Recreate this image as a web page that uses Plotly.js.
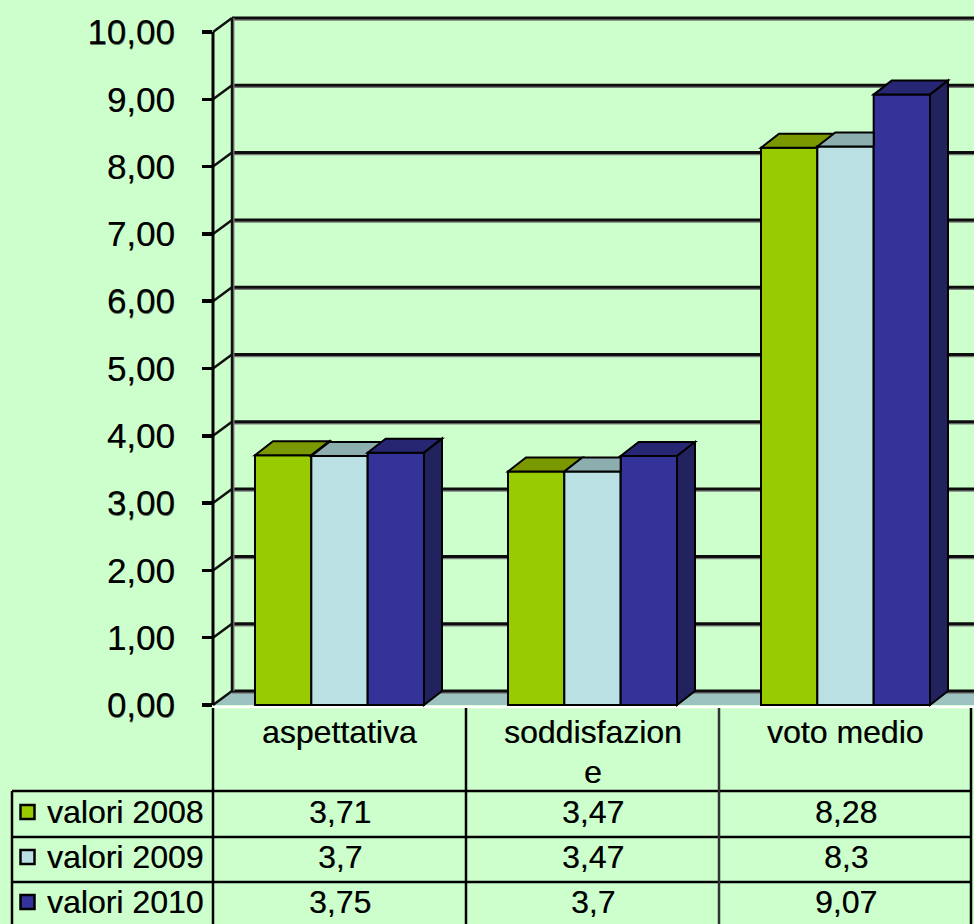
<!DOCTYPE html>
<html>
<head>
<meta charset="utf-8">
<script src="https://cdn.plot.ly/plotly-3.0.1.min.js"></script>
<style>
  html, body { margin: 0; padding: 0; background: #CCFFCC; }
  #chart { width: 974px; height: 924px; }
</style>
</head>
<body>
<div id="chart"></div>
<script>
// ---------------- DATA ----------------
const categories = ["aspettativa", "soddisfazione", "voto medio"];
const categoryLabelLines = [["aspettativa"], ["soddisfazion", "e"], ["voto medio"]];
const seriesNames = ["valori 2008", "valori 2009", "valori 2010"];
const values2008 = [3.71, 3.47, 8.28];
const values2009 = [3.7, 3.47, 8.3];
const values2010 = [3.75, 3.7, 9.07];
const yTickValues = [0, 1, 2, 3, 4, 5, 6, 7, 8, 9, 10];
const yTickLabels = ["0,00", "1,00", "2,00", "3,00", "4,00", "5,00", "6,00", "7,00", "8,00", "9,00", "10,00"];

// ---------------- STYLE / LAYOUT CONSTANTS ----------------
const FONT = "Liberation Sans, Arial, sans-serif";
const TEXT_SHADOW = "0.4px 0.3px 0px rgba(0,0,0,0.55)";
const BG = "#CCFFCC";
const frontColors = ["#99CC00", "#BBE0E3", "#333399"];
const topColors = ["#7A9900", "#8CAEAE", "#262673"];
const sideColors = ["#6C8A00", "#7C9C9C", "#22225E"];
const FLOOR = "#9DC3C1";

const W = 974, H = 924;
const plotLeft = 213;
const zeroPx = 705;
const pxPerUnit = 67.3;
const pxPerCat = 253;
const xMin = -0.5, xMax = xMin + (W - plotLeft) / pxPerCat;
const yMax = zeroPx / pxPerUnit, yMin = -(H - zeroPx) / pxPerUnit;
const wallDx = 19 / pxPerCat, wallDy = 14 / pxPerUnit;
const barDx = 18 / pxPerCat, barDy = 14 / pxPerUnit;
const groupFrac = 169 / 253;
const barW = groupFrac / 3;
const shadowDy = 2 / pxPerUnit;

const xToPaper = x => (x - xMin) / (xMax - xMin);
const yToPaper = y => (y - yMin) / (yMax - yMin);
const pxX = px => (px - plotLeft) / (W - plotLeft);
const pxY = py => 1 - py / H;

const seriesValues = [values2008, values2009, values2010];
const textFont = { family: FONT, size: 32, color: "#000", shadow: TEXT_SHADOW };

// ---------------- TRACES (front faces) ----------------
const traces = seriesValues.map((vals, j) => ({
  type: "bar",
  name: seriesNames[j],
  x: categories.map((c, i) => i),
  y: vals,
  hovertext: categories,
  marker: { color: frontColors[j], line: { color: "#000", width: 2 } }
}));

// ---------------- SHAPES ----------------
const shapes = [];
const path = pts => "M" + pts.map(p => p[0] + "," + p[1]).join("L") + "Z";
const P = (x, y) => [xToPaper(x), yToPaper(y)];

// floor
shapes.push({
  type: "path", xref: "paper", yref: "paper", layer: "below",
  path: path([P(xMin, 0), P(xMax, 0), P(xMax, wallDy), P(xMin + wallDx, wallDy)]),
  fillcolor: FLOOR, line: { width: 0 }
});
// white edge under floor
shapes.push({
  type: "line", xref: "paper", yref: "paper", layer: "below",
  x0: 0, x1: 1, y0: pxY(707), y1: pxY(707),
  line: { color: "#FFFFFF", width: 2.5 }
});
// back wall grid lines (with grey shadow) + side wall diagonals
yTickValues.forEach(t => {
  shapes.push({
    type: "line", xref: "paper", yref: "paper", layer: "below",
    x0: xToPaper(xMin + wallDx), x1: 1, y0: yToPaper(t + wallDy - shadowDy), y1: yToPaper(t + wallDy - shadowDy),
    line: { color: "#7a7a7a", width: 1.5 }
  });
  shapes.push({
    type: "line", xref: "paper", yref: "paper", layer: "below",
    x0: xToPaper(xMin + wallDx), x1: 1, y0: yToPaper(t + wallDy), y1: yToPaper(t + wallDy),
    line: { color: "#0d0d0d", width: 3 }
  });
  shapes.push({
    type: "line", xref: "paper", yref: "paper", layer: "below",
    x0: xToPaper(xMin), x1: xToPaper(xMin + wallDx), y0: yToPaper(t), y1: yToPaper(t + wallDy),
    line: { color: "#111", width: 2.5 }
  });
});
// back wall left edge (grey shadow + black)
shapes.push({
  type: "line", xref: "paper", yref: "paper", layer: "below",
  x0: pxX(233.5), x1: pxX(233.5),
  y0: yToPaper(wallDy), y1: yToPaper(yTickValues[yTickValues.length - 1] + wallDy),
  line: { color: "#808080", width: 2 }
});
shapes.push({
  type: "line", xref: "paper", yref: "paper", layer: "below",
  x0: xToPaper(xMin + wallDx), x1: xToPaper(xMin + wallDx),
  y0: yToPaper(wallDy), y1: yToPaper(yTickValues[yTickValues.length - 1] + wallDy),
  line: { color: "#111", width: 2.5 }
});
// front axis line
shapes.push({
  type: "line", xref: "paper", yref: "paper", layer: "above",
  x0: 0, x1: 0, y0: yToPaper(0), y1: yToPaper(yTickValues[yTickValues.length - 1]),
  line: { color: "#000", width: 3 }
});

// 3D bar faces (painter order: left to right)
categories.forEach((c, i) => {
  for (let j = 0; j < 3; j++) {
    const v = seriesValues[j][i];
    const xl = i + (j - 1.5) * barW;
    const xr = xl + barW;
    const hasNext = j < 2;
    const vn = hasNext ? seriesValues[j + 1][i] : null;
    let topPts;
    if (!hasNext || vn <= v) {
      topPts = [[xl, v], [xr, v], [xr + barDx, v + barDy], [xl + barDx, v + barDy]];
    } else if (vn >= v + barDy) {
      topPts = [[xl, v], [xr, v], [xr, v + barDy], [xl + barDx, v + barDy]];
    } else {
      const f = (vn - v) / barDy;
      topPts = [[xl, v], [xr, v], [xr, vn], [xr + barDx * f, vn], [xr + barDx, v + barDy], [xl + barDx, v + barDy]];
    }
    shapes.push({
      type: "path", xref: "x", yref: "y", layer: "above",
      path: path(topPts), fillcolor: topColors[j], line: { color: "#000", width: 2 }
    });
    let sidePts = null;
    if (!hasNext) {
      sidePts = [[xr, 0], [xr, v], [xr + barDx, v + barDy], [xr + barDx, barDy]];
    } else if (v > vn) {
      sidePts = [[xr, vn], [xr, v], [xr + barDx, v + barDy], [xr + barDx, vn + barDy]];
    }
    if (sidePts) {
      shapes.push({
        type: "path", xref: "x", yref: "y", layer: "above",
        path: path(sidePts), fillcolor: sideColors[j], line: { color: "#000", width: 2 }
      });
    }
  }
});

// ---------------- DATA TABLE ----------------
const rowTops = [791, 837, 882];
const rowCenters = [812, 857, 902];
const tableLeft = 12, tableRight = 972, headerTop = 708;
const TL = (x0, y0, x1, y1, color) => shapes.push({
  type: "line", xref: "paper", yref: "paper", layer: "above",
  x0: pxX(x0), x1: pxX(x1), y0: pxY(y0), y1: pxY(y1),
  line: { color: color || "#000", width: 2.5 }
});
rowTops.forEach(y => TL(tableLeft, y, tableRight, y));
TL(tableLeft, rowTops[0], tableLeft, H);
for (let k = 0; k <= categories.length; k++) {
  const bx = plotLeft + k * pxPerCat - (k === categories.length ? 1 : 0);
  TL(bx, headerTop, bx, H, k === 2 ? "#333" : "#000");
}
const annotations = [];
seriesNames.forEach((name, j) => {
  const cy = rowCenters[j];
  shapes.push({
    type: "rect", xref: "paper", yref: "paper", layer: "above",
    x0: pxX(20.5), x1: pxX(34.5), y0: pxY(cy - 7), y1: pxY(cy + 7),
    fillcolor: frontColors[j], line: { color: "#000", width: 2.5 }
  });
  annotations.push({
    xref: "paper", yref: "paper", x: pxX(45), y: pxY(cy),
    xanchor: "left", yanchor: "middle", showarrow: false,
    text: name, font: textFont
  });
  seriesValues[j].forEach((v, i) => {
    annotations.push({
      xref: "x", yref: "paper", x: i, y: pxY(cy),
      xanchor: "center", yanchor: "middle", showarrow: false,
      text: String(v).replace(".", ","), font: textFont
    });
  });
});
categoryLabelLines.forEach((lines, i) => {
  lines.forEach((ln, k) => {
    annotations.push({
      xref: "x", yref: "paper", x: i, y: pxY(732 + k * 40),
      xanchor: "center", yanchor: "middle", showarrow: false,
      text: ln, font: textFont
    });
  });
});

const layout = {
  width: W, height: H,
  margin: { l: plotLeft, r: 0, t: 0, b: 0, pad: 0 },
  paper_bgcolor: BG, plot_bgcolor: BG,
  showlegend: false,
  barmode: "group", bargap: 1 - groupFrac, bargroupgap: 0,
  xaxis: {
    type: "linear", range: [xMin, xMax], fixedrange: true,
    showgrid: false, zeroline: false, showline: false,
    showticklabels: false, ticks: "",
    tickvals: categories.map((c, i) => i), ticktext: categories
  },
  yaxis: {
    range: [yMin, yMax], fixedrange: true,
    showgrid: false, zeroline: false, showline: false,
    tickvals: yTickValues, ticktext: yTickLabels,
    ticks: "outside", ticklen: 10, tickwidth: 3.5, tickcolor: "#000",
    ticklabelstandoff: 20,
    tickfont: { family: FONT, size: 35, color: "#000", shadow: TEXT_SHADOW }
  },
  shapes: shapes,
  annotations: annotations,
  font: { family: FONT, color: "#000" }
};

Plotly.newPlot("chart", traces, layout, { displayModeBar: false, staticPlot: true });
</script>
</body>
</html>
